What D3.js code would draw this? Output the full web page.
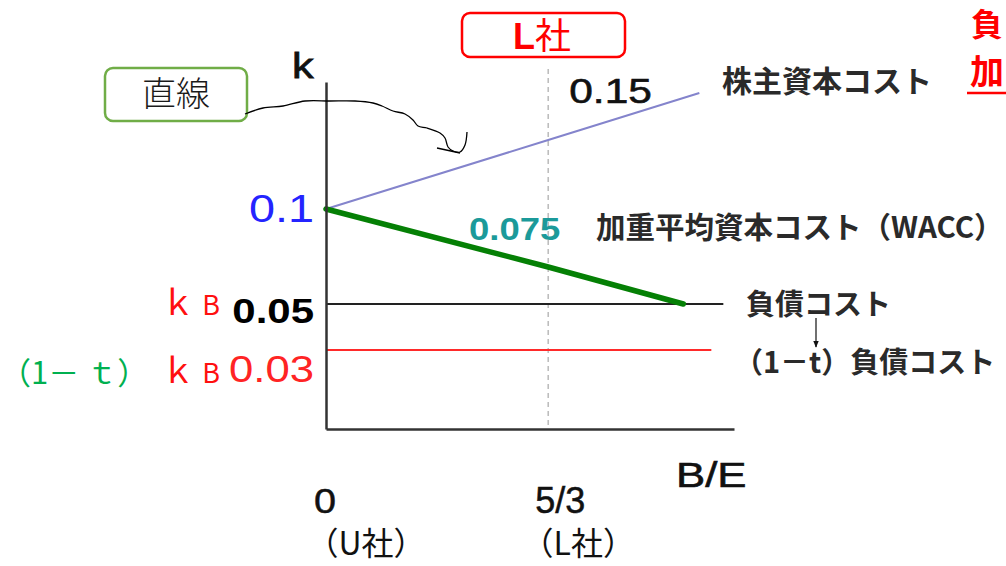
<!DOCTYPE html>
<html lang="ja">
<head>
<meta charset="utf-8">
<script src="https://cdn.jsdelivr.net/npm/d3@7"></script>
<style>
  html, body { margin: 0; padding: 0; background: #fff; }
  svg { display: block; }
</style>
</head>
<body>
<script>
// ---- data ---------------------------------------------------------------
// B/E (debt / equity ratio) and cost of capital k for each line
const firmBE      = [0, 5 / 3];
const firmTicks   = ["0", "5/3"];
const firmNames   = ["（U社）", "（L社）"];

const equityBE    = [0, 5 / 3, 2.8];
const equityK     = [0.10, 0.15, 0.184];

const waccBE      = [0, 5 / 3, 2.68];
const waccK       = [0.10, 0.075, 0.05];

const debtBE      = [0, 2.98];
const debtK       = [0.05, 0.05];

const afterTaxBE  = [0, 2.89];
const afterTaxK   = [0.03, 0.03];

const kTickValues = [0.10, 0.05, 0.03];
const kTickLabels = ["0.1", "0.05", "0.03"];

const equityAtL   = 0.15;
const waccAtL     = 0.075;

const lineNames   = ["株主資本コスト", "加重平均資本コスト（WACC）", "負債コスト", "（1－t）負債コスト"];

// ---- layout -------------------------------------------------------------
const W = 1006, H = 566;
const beMax = 3.06;
// the k axis is schematic: each reference value gets its own stop
const kStops   = [0, 0.03, 0.05, 0.075, 0.10, 0.15, 0.192];
const kStopsPx = [429, 350, 304, 267, 209, 140, 82];

const LATIN = "'Liberation Sans', Arial, sans-serif";
const CJK   = "'Noto Sans CJK JP', 'Noto Sans CJK SC', sans-serif";

const svg = d3.select("body").append("svg")
  .attr("width", W).attr("height", H)
  .attr("viewBox", `0 0 ${W} ${H}`);

svg.append("rect").attr("width", W).attr("height", H).attr("fill", "#fff");

const x = d3.scaleLinear().domain([0, beMax]).range([326, 734]);
const y = d3.scaleLinear().domain(kStops).range(kStopsPx);

// text helper with optional horizontal stretch and stroke thickening
function label(px, py, str, o) {
  const fill = o.fill || "#111";
  const t = svg.append("text")
    .attr("transform", `translate(${px},${py}) scale(${o.sx || 1},1)`)
    .attr("text-anchor", o.anchor || "start")
    .attr("font-family", o.family || LATIN)
    .attr("font-size", o.size)
    .attr("font-weight", o.weight || 400)
    .attr("fill", fill)
    .text(str);
  if (o.thick) t.attr("stroke", fill).attr("stroke-width", o.thick);
  return t;
}

// ---- L company guide (dashed) ------------------------------------------
svg.append("line")
  .attr("x1", x(firmBE[1])).attr("x2", x(firmBE[1]))
  .attr("y1", 69).attr("y2", y(0))
  .attr("stroke", "#bdbdbd").attr("stroke-width", 1.6)
  .attr("stroke-dasharray", "5,4");

// ---- lines --------------------------------------------------------------
const line = d3.line().x(d => x(d[0])).y(d => y(d[1]));

svg.append("path").datum(d3.zip(afterTaxBE, afterTaxK))
  .attr("d", line).attr("fill", "none")
  .attr("stroke", "#ff2a2a").attr("stroke-width", 2);

svg.append("path").datum(d3.zip(debtBE, debtK))
  .attr("d", line).attr("fill", "none")
  .attr("stroke", "#222").attr("stroke-width", 2);

svg.append("path").datum(d3.zip(equityBE, equityK))
  .attr("d", line).attr("fill", "none")
  .attr("stroke", "#8484cc").attr("stroke-width", 2);

svg.append("path").datum(d3.zip(waccBE, waccK))
  .attr("d", line).attr("fill", "none")
  .attr("stroke", "#058005").attr("stroke-width", 5.5)
  .attr("stroke-linecap", "round");

// ---- axes ---------------------------------------------------------------
const xAxis = svg.append("g").attr("transform", `translate(0,${y(0)})`)
  .call(d3.axisBottom(x).tickValues([]).tickSizeOuter(0));
const yAxis = svg.append("g").attr("transform", `translate(${x(0)},0)`)
  .call(d3.axisLeft(y).tickValues([]).tickSizeOuter(0));
[xAxis, yAxis].forEach(a => a.select(".domain")
  .attr("stroke", "#333").attr("stroke-width", 2.5));

// axis titles
label(292, 78, "k", { size: 36, sx: 1.2, thick: 0.8 });
label(676, 487, "B/E", { size: 35, sx: 1.25, thick: 0.6 });

// ---- k tick labels ------------------------------------------------------
const kStyles = [
  { size: 39, fill: "#2424ff", weight: 400, dy: 13, sx: 1.2 },
  { size: 35, fill: "#000",    weight: 700, dy: 19, sx: 1.2 },
  { size: 37, fill: "#ff2424", weight: 400, dy: 32, sx: 1.18 }
];
kTickValues.forEach((v, i) => {
  const s = kStyles[i];
  label(x(0) - 12, y(v) + s.dy, kTickLabels[i],
        { size: s.size, fill: s.fill, weight: s.weight, anchor: "end", sx: s.sx });
});

// symbols beside 0.05 and 0.03
[debtK[0], afterTaxK[0]].forEach((v, i) => {
  const base = y(v) + (i === 0 ? 11 : 33);
  label(178, base, "ｋ", { family: CJK, size: 34, fill: "#ff1010", anchor: "middle" });
  label(211, base, "B",  { family: CJK, size: 27, fill: "#ff1010", anchor: "middle" });
});
label(0, y(afterTaxK[0]) + 34, "（1－ ｔ）", { family: CJK, size: 31, fill: "#00b050" });

// ---- B/E tick labels ----------------------------------------------------
firmBE.forEach((v, i) => {
  label(x(v) + (i === 0 ? -1 : 12), 513, firmTicks[i],
        { size: 36, anchor: "middle", sx: i === 0 ? 1.1 : 1.0, thick: 0.5 });
  label(x(v) + (i === 0 ? 40 : 30), 555, firmNames[i],
        { family: CJK, size: 32, anchor: "middle" });
});

// ---- values at L company -----------------------------------------------
label(x(firmBE[1]) + 21, y(equityAtL) - 37, String(equityAtL),
      { size: 36, sx: 1.18, thick: 0.6 });
label(x(firmBE[1]) + 12, y(waccAtL) - 27, String(waccAtL),
      { size: 32, weight: 700, fill: "#1b9a9a", anchor: "end", sx: 1.14 });

// ---- line names ---------------------------------------------------------
const nameStyle = { family: CJK, weight: 700, fill: "#2a2a2a" };
label(722, 92,  lineNames[0], { ...nameStyle, size: 30 });
label(596, 238, lineNames[1], { ...nameStyle, size: 29.5 });
label(746, 315, lineNames[2], { ...nameStyle, size: 29 });
label(734, 373, lineNames[3], { ...nameStyle, size: 29 });

// arrow from debt cost to after-tax debt cost
svg.append("defs").append("marker")
  .attr("id", "head").attr("viewBox", "0 0 10 10")
  .attr("refX", 9).attr("refY", 5)
  .attr("markerWidth", 6).attr("markerHeight", 6)
  .attr("orient", "auto")
  .append("path").attr("d", "M0,1 L10,5 L0,9 Z").attr("fill", "#111");
svg.append("line")
  .attr("x1", 816).attr("y1", 318).attr("x2", 816).attr("y2", 347)
  .attr("stroke", "#111").attr("stroke-width", 1.2)
  .attr("marker-end", "url(#head)");

// ---- callout boxes ------------------------------------------------------
svg.append("rect")
  .attr("x", 105).attr("y", 68).attr("width", 142).attr("height", 53)
  .attr("rx", 8).attr("fill", "#fff")
  .attr("stroke", "#70ad47").attr("stroke-width", 2.5);
label(176, 106, "直線", { family: CJK, size: 34, weight: 300, fill: "#1a1a1a", anchor: "middle" });

svg.append("rect")
  .attr("x", 462).attr("y", 13).attr("width", 163).attr("height", 44)
  .attr("rx", 8).attr("fill", "#fff")
  .attr("stroke", "#ff0000").attr("stroke-width", 2.5);
const lt = svg.append("text")
  .attr("x", 542).attr("y", 49).attr("text-anchor", "middle")
  .attr("fill", "#ff0000").attr("font-size", 36);
lt.append("tspan").attr("font-family", LATIN).attr("font-weight", 700).text("L");
lt.append("tspan").attr("font-family", CJK).attr("font-weight", 400).text("社");

// freehand pointer from the 直線 box
const ink = [[245,114],[263,108],[283,106],[305,101],[330,101],[355,101],[373,103],
             [382,106],[393,111],[405,114],[413,120],[418,126],[427,128],[440,133],
             [445,138],[448,147],[453,151],[460,152],[465,145],[467,132]];
svg.append("path").datum(ink)
  .attr("d", d3.line().curve(d3.curveCatmullRom))
  .attr("fill", "none").attr("stroke", "#000").attr("stroke-width", 1.3);
svg.append("path").datum([[437,148],[460,153]])
  .attr("d", d3.line())
  .attr("fill", "none").attr("stroke", "#000").attr("stroke-width", 1.3);

// ---- heading at the right edge ------------------------------------------
label(971, 36, "負", { family: CJK, size: 32, weight: 700, fill: "#ff0000" });
label(970, 84, "加", { family: CJK, size: 34, weight: 700, fill: "#ff0000" });
svg.append("line").attr("x1", 967).attr("x2", W).attr("y1", 93).attr("y2", 93)
  .attr("stroke", "#ff0000").attr("stroke-width", 2.5);
</script>
</body>
</html>
